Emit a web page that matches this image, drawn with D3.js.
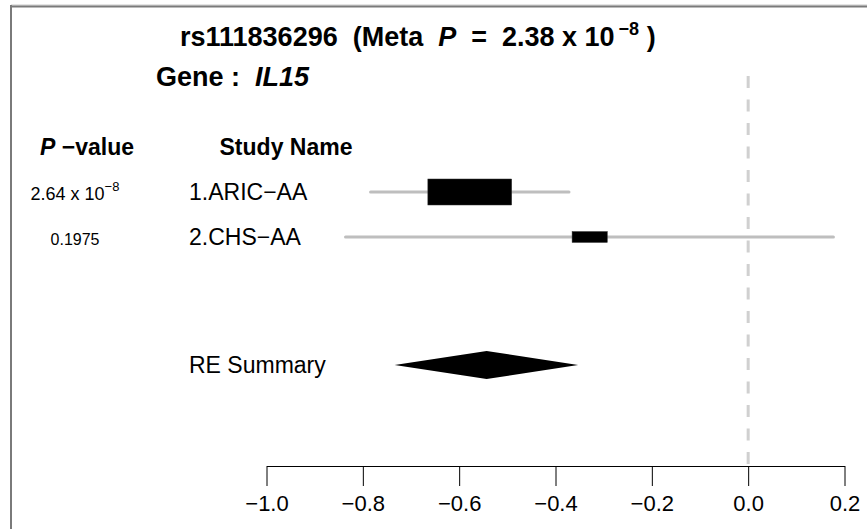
<!DOCTYPE html>
<html>
<head>
<meta charset="utf-8">
<script src="https://cdn.jsdelivr.net/npm/d3@7"></script>
<style>
  html, body { margin: 0; padding: 0; background: #fff; }
  svg { display: block; }
  text { font-family: "Liberation Sans", Arial, sans-serif; fill: #000; white-space: pre; }
</style>
</head>
<body>
<script>
// Forest plot data
const studies   = ["1.ARIC\u2212AA", "2.CHS\u2212AA"];
const pMantissa = ["2.64", null];
const pExponent = ["\u22128", null];
const pPlain    = [null, "0.1975"];
const estimates = [-0.578, -0.329];
const lower     = [-0.784, -0.836];
const upper     = [-0.372, 0.177];
const boxSize   = [1.0, 0.42];     // relative study weight
const summary   = { label: "RE Summary", est: -0.543, lo: -0.734, hi: -0.353 };
const xTicks    = [-1.0, -0.8, -0.6, -0.4, -0.2, 0.0, 0.2];
const snp = "rs111836296", gene = "IL15", metaP = "2.38", metaExp = "\u22128";

const W = 867, H = 529;
const svg = d3.select("body").append("svg").attr("width", W).attr("height", H);

// frame
svg.append("line").attr("x1", 11).attr("x2", W).attr("y1", 5).attr("y2", 5)
  .attr("stroke", "#c8c8c8").attr("stroke-width", 1);
svg.append("line").attr("x1", 11).attr("x2", W).attr("y1", 6.5).attr("y2", 6.5)
  .attr("stroke", "#7a7a7a").attr("stroke-width", 2);
svg.append("line").attr("x1", 11).attr("x2", 11).attr("y1", 5).attr("y2", H)
  .attr("stroke", "#7a7a7a").attr("stroke-width", 2);

const x = d3.scaleLinear().domain([-1.0, 0.2]).range([266.5, 844.5]);
const rowY = [192, 237];
const sumY = 365;
const axisY = 466;

// null line
svg.append("line").attr("x1", x(0)).attr("x2", x(0)).attr("y1", 68).attr("y2", axisY)
  .attr("stroke", "#d0d0d0").attr("stroke-width", 3)
  .attr("stroke-dasharray", "12,11.5").attr("stroke-dashoffset", 15.5);

// axis
const axis = d3.axisBottom(x).tickValues(xTicks).tickSize(20).tickSizeOuter(0);
const gAx = svg.append("g").attr("transform", `translate(0,${axisY})`).call(axis);
gAx.select(".domain").attr("stroke", "#000").attr("stroke-width", 1);
gAx.selectAll(".tick line").attr("stroke", "#000");
gAx.selectAll(".tick text").attr("font-size", 22).attr("dy", 0).attr("y", 45)
  .style("font-family", "'Liberation Sans', Arial, sans-serif")
  .text(d => d3.format(".1f")(d).replace("-", "\u2212"));

// titles
const t = svg.append("text").attr("x", 180).attr("y", 46).attr("font-size", 27).attr("font-weight", "bold");
t.append("tspan").text(snp + "  (Meta  ");
t.append("tspan").attr("font-style", "italic").text("P");
t.append("tspan").text("  =  " + metaP + " x 10");
t.append("tspan").attr("font-size", 18).attr("dx", 4).attr("dy", -11).text(metaExp);
t.append("tspan").attr("dy", 11).text(" )");

const g = svg.append("text").attr("x", 156).attr("y", 86).attr("font-size", 27).attr("font-weight", "bold");
g.append("tspan").text("Gene :  ");
g.append("tspan").attr("font-style", "italic").text(gene);

// column headers
const ph = svg.append("text").attr("x", 87).attr("y", 155).attr("text-anchor", "middle")
  .attr("font-size", 23).attr("font-weight", "bold");
ph.append("tspan").attr("font-style", "italic").text("P");
ph.append("tspan").text(" \u2212value");
svg.append("text").attr("x", 286).attr("y", 155).attr("text-anchor", "middle")
  .attr("font-size", 23).attr("font-weight", "bold").text("Study Name");

// p-values and study names
studies.forEach((s, i) => {
  const pt = svg.append("text").attr("x", 75).attr("y", rowY[i] + 8)
    .attr("text-anchor", "middle");
  if (pPlain[i]) {
    pt.attr("font-size", 16).text(pPlain[i]);
  } else {
    pt.attr("font-size", 18);
    pt.append("tspan").text(pMantissa[i] + " x 10");
    pt.append("tspan").attr("font-size", 13).attr("dy", -9).text(pExponent[i]);
  }
  svg.append("text").attr("x", 189).attr("y", rowY[i] + 8).attr("font-size", 23).text(s);
});

// confidence intervals
svg.selectAll("line.ci").data(studies).join("line").attr("class", "ci")
  .attr("x1", (d, i) => x(lower[i])).attr("x2", (d, i) => x(upper[i]))
  .attr("y1", (d, i) => rowY[i]).attr("y2", (d, i) => rowY[i])
  .attr("stroke", "#bebebe").attr("stroke-width", 3).attr("stroke-linecap", "round");

// study boxes
const boxW = 0.174, boxH = 26;
svg.selectAll("rect.box").data(studies).join("rect").attr("class", "box")
  .attr("x", (d, i) => x(estimates[i] - boxSize[i] * boxW / 2))
  .attr("width", (d, i) => x(estimates[i] + boxSize[i] * boxW / 2) - x(estimates[i] - boxSize[i] * boxW / 2))
  .attr("y", (d, i) => rowY[i] - boxSize[i] * boxH / 2)
  .attr("height", (d, i) => boxSize[i] * boxH)
  .attr("fill", "#000").attr("stroke", "#333").attr("stroke-width", 0.5);

// summary diamond
svg.append("text").attr("x", 189).attr("y", sumY + 8).attr("font-size", 23).text(summary.label);
const dh = 14;
svg.append("path")
  .attr("d", `M${x(summary.lo)},${sumY} L${x(summary.est)},${sumY - dh} L${x(summary.hi)},${sumY} L${x(summary.est)},${sumY + dh} Z`)
  .attr("fill", "#000");
</script>
</body>
</html>
